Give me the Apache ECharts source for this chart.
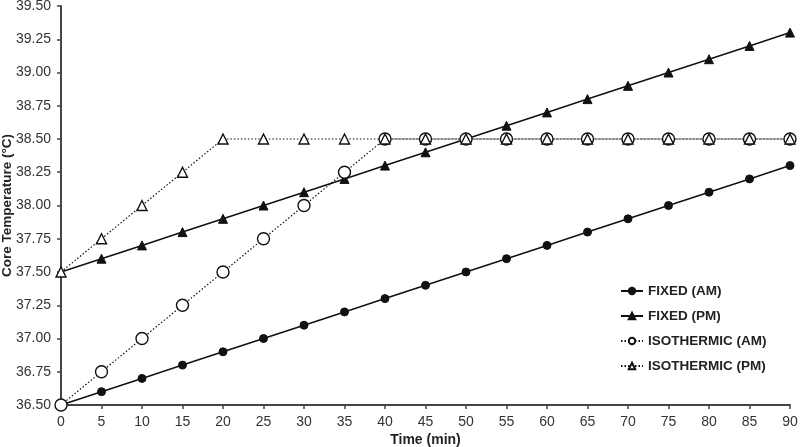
<!DOCTYPE html>
<html><head><meta charset="utf-8">
<script src="https://cdn.jsdelivr.net/npm/echarts@6/dist/echarts.min.js"></script>
<style>html,body{margin:0;padding:0;background:#fff}#c{width:800px;height:447px}</style>
</head><body><div id="c"></div>
<script>
const times = [0,5,10,15,20,25,30,35,40,45,50,55,60,65,70,75,80,85,90];
const fixedAM = [36.5,36.6,36.7,36.8,36.9,37.0,37.1,37.2,37.3,37.4,37.5,37.6,37.7,37.8,37.9,38.0,38.1,38.2,38.3];
const fixedPM = [37.5,37.6,37.7,37.8,37.9,38.0,38.1,38.2,38.3,38.4,38.5,38.6,38.7,38.8,38.9,39.0,39.1,39.2,39.3];
const isoAM = [36.5,36.75,37.0,37.25,37.5,37.75,38.0,38.25,38.5,38.5,38.5,38.5,38.5,38.5,38.5,38.5,38.5,38.5,38.5];
const isoPM = [37.5,37.75,38.0,38.25,38.5,38.5,38.5,38.5,38.5,38.5,38.5,38.5,38.5,38.5,38.5,38.5,38.5,38.5,38.5];
const seriesNames = ['FIXED (AM)','FIXED (PM)','ISOTHERMIC (AM)','ISOTHERMIC (PM)'];

const pair = arr => times.map((t,i)=>[t,arr[i]]);
const font = '"Liberation Sans",Arial,sans-serif';
const chart = echarts.init(document.getElementById('c'), null, {renderer:'canvas'});
const lineBase = (name, data, symbol, size, dotted, fill) => ({
  name, type:'line', data: pair(data), symbol, symbolSize:size, showSymbol:true,
  lineStyle:{color:'#111', width: dotted?1.2:1.6, type: dotted?[1.5,2]:'solid'},
  itemStyle:{color: fill, borderColor:'#111', borderWidth: dotted?1.4:1},
  emphasis:{disabled:true}, animation:false, z: dotted?3:2
});
chart.setOption({
  animation:false,
  backgroundColor:'#fff',
  grid:{left:61, right:10, top:6, bottom:42, containLabel:false, outerBoundsMode:'none'},
  legend:{
    orient:'vertical', left:620, top:284, padding:0, itemGap:11, itemWidth:22, itemHeight:8,
    textStyle:{fontFamily:font, fontWeight:'bold', fontSize:13.5, color:'#222', lineHeight:14},
    data: seriesNames
  },
  xAxis:{
    type:'value', min:0, max:90, interval:5,
    name:'Time (min)', nameLocation:'middle', nameGap:28,
    nameMoveOverlap:false,
    nameTextStyle:{fontFamily:font, fontWeight:'bold', fontSize:14, color:'#222'},
    axisLine:{lineStyle:{color:'#444', width:2}},
    axisTick:{show:true, length:4, lineStyle:{color:'#444', width:1.5}},
    axisLabel:{fontFamily:font, fontSize:14, color:'#333', margin:10},
    splitLine:{show:false}
  },
  yAxis:{
    type:'value', min:36.5, max:39.5, interval:0.25,
    name:'Core Temperature (°C)', nameLocation:'middle', nameGap:47, nameRotate:90,
    nameMoveOverlap:false,
    nameTextStyle:{fontFamily:font, fontWeight:'bold', fontSize:13.5, color:'#222'},
    axisLine:{show:true, lineStyle:{color:'#444', width:2}},
    axisTick:{show:true, length:4, lineStyle:{color:'#444', width:1.5}},
    axisLabel:{fontFamily:font, fontSize:14, color:'#333', margin:10, formatter:v=>v.toFixed(2)},
    splitLine:{show:false}
  },
  series:[
    lineBase(seriesNames[0], fixedAM, 'circle', 8, false, '#111'),
    lineBase(seriesNames[1], fixedPM, 'triangle', 9, false, '#111'),
    lineBase(seriesNames[2], isoAM, 'circle', 12, true, '#fff'),
    lineBase(seriesNames[3], isoPM, 'triangle', 10, true, '#fff')
  ]
});
</script></body></html>
